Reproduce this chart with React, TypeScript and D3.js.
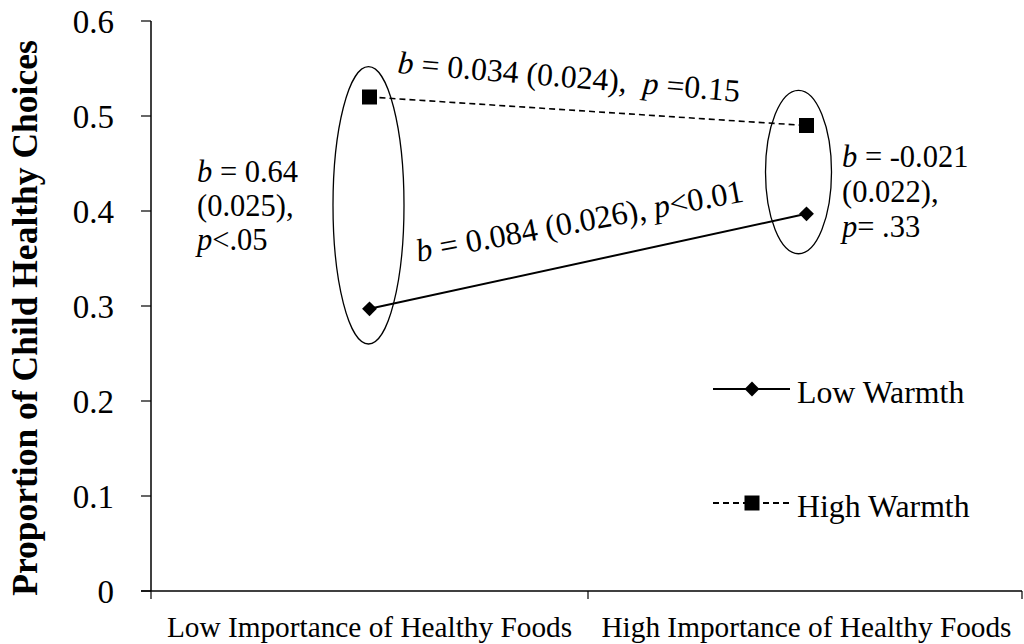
import React from "react";
import * as d3 from "d3";

// data
const categories = ["Low Importance of Healthy Foods", "High Importance of Healthy Foods"];
const lowWarmth = [0.297, 0.397];
const highWarmth = [0.52, 0.49];
const yTicks = [0, 0.1, 0.2, 0.3, 0.4, 0.5, 0.6];
const seriesNames = ["Low Warmth", "High Warmth"];
// ellipse spans (data units) drawn around each category's pair of points
const ellipseSpans = [[0.26, 0.552], [0.355, 0.527]];

const W = 1024, H = 644;
const m = { top: 21, right: -1, bottom: 53, left: 151 };
const FONT = "Liberation Serif, Times New Roman, serif";

export default function App() {
  const x = d3.scaleBand().domain(categories).range([m.left, W - m.right]);
  const y = d3.scaleLinear().domain([0, 0.6]).range([H - m.bottom, m.top]);
  const cx = (i: number) => (x(categories[i]) as number) + x.bandwidth() / 2;

  const line = d3.line<number>().x((_, i) => cx(i)).y(d => y(d));
  const diamond = d3.symbol().type(d3.symbolSquare).size(110)();
  const square = d3.symbol().type(d3.symbolSquare).size(225)();

  const x0 = m.left, x1 = W - 2, yb = y(0);
  const ticksX = [x0, x0 + x.bandwidth(), x1];
  const ts = { fontFamily: FONT };

  return (
    <svg width={W} height={H} style={{ position: "absolute", left: 0, top: 0, background: "#fff" }}>
      {/* y axis */}
      <line x1={x0} x2={x0} y1={y(0.6)} y2={yb} stroke="#000" strokeWidth={1.5} />
      {yTicks.map(t => (
        <g key={t}>
          <line x1={x0 - 10} x2={x0} y1={y(t)} y2={y(t)} stroke="#000" strokeWidth={1.2} />
          <text x={x0 - 37} y={y(t)} dy="0.35em" textAnchor="end" fontSize={33} style={ts}>{t === 0 ? "0" : t.toFixed(1)}</text>
        </g>
      ))}
      {/* x axis */}
      <line x1={x0 - 10} x2={x1} y1={yb} y2={yb} stroke="#000" strokeWidth={1.5} />
      {ticksX.map((t, i) => (
        <line key={i} x1={t} x2={t} y1={yb} y2={yb + 8} stroke="#000" strokeWidth={1.2} />
      ))}
      {categories.map((c, i) => (
        <text key={c} x={cx(i)} y={yb + 46} textAnchor="middle" fontSize={29.3} style={ts}>{c}</text>
      ))}
      <text transform={`translate(37,${(y(0.6) + yb) / 2 + 12}) rotate(-90)`} textAnchor="middle" fontSize={35.5} fontWeight="bold" style={ts}>
        Proportion of Child Healthy Choices
      </text>

      {/* ellipses */}
      {ellipseSpans.map((s, i) => (
        <ellipse key={i} cx={cx(i) + (i === 0 ? -1 : -8)} cy={(y(s[0]) + y(s[1])) / 2} rx={i === 0 ? 35.5 : 33}
          ry={(y(s[0]) - y(s[1])) / 2} fill="none" stroke="#000" strokeWidth={1.3} />
      ))}

      {/* series */}
      <path d={line(lowWarmth) as string} fill="none" stroke="#000" strokeWidth={2} />
      <path d={line(highWarmth) as string} fill="none" stroke="#000" strokeWidth={1.6} strokeDasharray="6,4" />
      {lowWarmth.map((v, i) => <path key={i} d={diamond as string} transform={`translate(${cx(i)},${y(v)}) rotate(45)`} fill="#000" />)}
      {highWarmth.map((v, i) => <path key={i} d={square as string} transform={`translate(${cx(i)},${y(v)})`} fill="#000" />)}

      {/* annotations */}
      <text transform={`translate(397,73) rotate(4.8)`} fontSize={31.8} style={ts}>
        <tspan fontStyle="italic">b</tspan> = 0.034 (0.024),{"\u00a0\u00a0"}<tspan fontStyle="italic">p</tspan> =0.15
      </text>
      <text transform={`translate(418,262) rotate(-10.5)`} fontSize={32.3} style={ts}>
        <tspan fontStyle="italic">b</tspan> = 0.084 (0.026), <tspan fontStyle="italic">p</tspan>&lt;0.01
      </text>
      <text x={197} y={182} fontSize={30.5} style={ts}>
        <tspan fontStyle="italic">b</tspan> = 0.64
        <tspan x={197} dy={34}>(0.025),</tspan>
        <tspan x={197} dy={34}><tspan fontStyle="italic">p</tspan>&lt;.05</tspan>
      </text>
      <text x={842} y={167} fontSize={30.5} style={ts}>
        <tspan fontStyle="italic">b</tspan> = -0.021
        <tspan x={842} dy={35}>(0.022),</tspan>
        <tspan x={842} dy={35}><tspan fontStyle="italic">p</tspan>= .33</tspan>
      </text>

      {/* legend */}
      {seriesNames.map((n, i) => {
        const ly = i === 0 ? 389 : 503;
        return (
          <g key={n}>
            <line x1={713} x2={790} y1={ly} y2={ly} stroke="#000" strokeWidth={2} strokeDasharray={i === 0 ? undefined : "6,4"} />
            <path d={(i === 0 ? diamond : square) as string} transform={`translate(752,${ly})${i === 0 ? " rotate(45)" : ""}`} fill="#000" />
            <text x={797} y={ly + 14} fontSize={31.8} style={ts}>{n}</text>
          </g>
        );
      })}
    </svg>
  );
}
